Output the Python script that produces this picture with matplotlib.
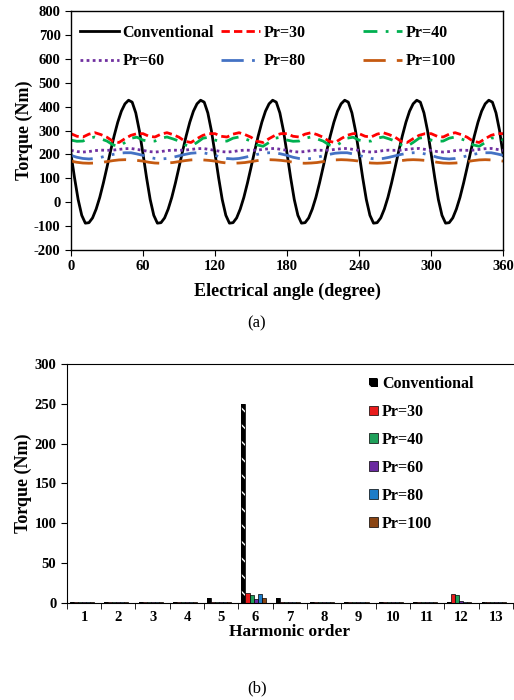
import matplotlib
matplotlib.use("Agg")
import matplotlib.pyplot as plt
import numpy as np

plt.rcParams['font.family'] = ['Liberation Serif', 'DejaVu Serif']
plt.rcParams['font.weight'] = 'bold'
plt.rcParams['hatch.linewidth'] = 1.0
plt.rcParams['axes.unicode_minus'] = False

# ---------------- (a) torque waveforms ----------------
angle_conv = list(range(0, 361, 3))
conv = [203, 102, 11, -55, -88, -86, -66, -29, 20, 80, 146, 214, 278, 335, 381, 412, 427, 419, 374, 299,
        203, 102, 11, -55, -88, -86, -66, -29, 20, 80, 146, 214, 278, 335, 381, 412, 427, 419, 374, 299,
        203, 102, 11, -55, -88, -86, -66, -29, 20, 80, 146, 214, 278, 335, 381, 412, 427, 419, 374, 299,
        203, 102, 11, -55, -88, -86, -66, -29, 20, 80, 146, 214, 278, 335, 381, 412, 427, 419, 374, 299,
        203, 102, 11, -55, -88, -86, -66, -29, 20, 80, 146, 214, 278, 335, 381, 412, 427, 419, 374, 299,
        203, 102, 11, -55, -88, -86, -66, -29, 20, 80, 146, 214, 278, 335, 381, 412, 427, 419, 374, 299,
        195]

angle_pr = list(range(0, 361, 5))
pr30 = [287, 276, 273, 285, 291, 283, 272, 255, 250, 266, 280, 287,
        287, 276, 273, 285, 291, 283, 272, 255, 250, 266, 280, 287,
        287, 276, 273, 285, 291, 283, 272, 255, 250, 266, 280, 287,
        287, 276, 273, 285, 291, 283, 272, 255, 250, 266, 280, 287,
        287, 276, 273, 285, 291, 283, 272, 255, 250, 266, 280, 287,
        287, 276, 273, 285, 291, 283, 272, 255, 250, 266, 280, 287,
        287]
pr40 = [260, 255, 256, 268, 273, 265, 256, 240, 234, 250, 268, 272,
        260, 255, 256, 268, 273, 265, 256, 240, 234, 250, 268, 272,
        260, 255, 256, 268, 273, 265, 256, 240, 234, 250, 268, 272,
        260, 255, 256, 268, 273, 265, 256, 240, 234, 250, 268, 272,
        260, 255, 256, 268, 273, 265, 256, 240, 234, 250, 268, 272,
        260, 255, 256, 268, 273, 265, 256, 240, 234, 250, 268, 272,
        260]
pr60 = [217, 212, 210, 212, 216, 218, 217, 218, 221, 224, 225, 221,
        217, 212, 210, 212, 216, 218, 217, 218, 221, 224, 225, 221,
        217, 212, 210, 212, 216, 218, 217, 218, 221, 224, 225, 221,
        217, 212, 210, 212, 216, 218, 217, 218, 221, 224, 225, 221,
        217, 212, 210, 212, 216, 218, 217, 218, 221, 224, 225, 221,
        217, 212, 210, 212, 216, 218, 217, 218, 221, 224, 225, 221,
        217]
pr80 = [196, 188, 183, 181, 183, 188, 194, 200, 205, 207, 207, 202,
        196, 188, 183, 181, 183, 188, 194, 200, 205, 207, 207, 202,
        196, 188, 183, 181, 183, 188, 194, 200, 205, 207, 207, 202,
        196, 188, 183, 181, 183, 188, 194, 200, 205, 207, 207, 202,
        196, 188, 183, 181, 183, 188, 194, 200, 205, 207, 207, 202,
        196, 188, 183, 181, 183, 188, 194, 200, 205, 207, 207, 202,
        196]
pr100 = [172, 167, 164, 163, 164, 166, 170, 174, 177, 178, 177, 175,
         172, 167, 164, 163, 164, 166, 170, 174, 177, 178, 177, 175,
         172, 167, 164, 163, 164, 166, 170, 174, 177, 178, 177, 175,
         172, 167, 164, 163, 164, 166, 170, 174, 177, 178, 177, 175,
         172, 167, 164, 163, 164, 166, 170, 174, 177, 178, 177, 175,
         172, 167, 164, 163, 164, 166, 170, 174, 177, 178, 177, 175,
         172]

# ---------------- (b) harmonic spectrum ----------------
harmonics = list(range(1, 14))
series_names = ['Conventional', 'Pr=30', 'Pr=40', 'Pr=60', 'Pr=80', 'Pr=100']
h_conv = [0.3, 0.5, 0.8, 1.5, 5.5, 250, 5.5, 0.3, 0.3, 0.3, 0.3, 0.3, 0.3]
h_pr30 = [0.3, 0.3, 0.3, 0.3, 0.3, 12.5, 0.3, 0.3, 0.3, 0.3, 0.3, 11, 0.3]
h_pr40 = [0.3, 0.3, 0.3, 0.3, 0.3, 10, 0.3, 0.3, 0.3, 0.3, 0.3, 10, 0.3]
h_pr60 = [0.3, 0.3, 0.3, 0.3, 0.3, 5, 0.3, 0.3, 0.3, 0.3, 0.3, 2.5, 0.3]
h_pr80 = [0.3, 0.3, 0.3, 0.3, 0.3, 11, 0.3, 0.3, 0.3, 0.3, 0.3, 0.6, 0.3]
h_pr100 = [0.3, 0.3, 0.3, 0.3, 0.3, 5.5, 0.3, 0.3, 0.3, 0.3, 0.3, 0.3, 0.3]

W, H = 514, 700
fig = plt.figure(figsize=(W / 100, H / 100), dpi=100)

# ---- top ----
ax1 = fig.add_axes([0.138, 0.643, 0.841, 0.341])
l0, = ax1.plot(angle_conv, conv, color='black', lw=2.0, label='Conventional')
l1, = ax1.plot(angle_pr, pr30, color='#ff0000', lw=2.0, dashes=(3, 1.5), label='Pr=30')
l2, = ax1.plot(angle_pr, pr40, color='#00b050', lw=2.0, dashes=(5, 3, 1, 3), label='Pr=40')
l3, = ax1.plot(angle_pr, pr60, color='#7030a0', lw=2.0, dashes=(1, 1.2), label='Pr=60')
l4, = ax1.plot(angle_pr, pr80, color='#4472c4', lw=2.0, dashes=(8, 3, 1, 3, 1, 3), label='Pr=80')
l5, = ax1.plot(angle_pr, pr100, color='#c55a11', lw=2.0, dashes=(8, 4), label='Pr=100')
ax1.set_xlim(0, 360)
ax1.set_ylim(-200, 800)
ax1.set_xticks(range(0, 361, 60))
ax1.set_yticks(range(-200, 801, 100))
ax1.tick_params(direction='out', length=4, labelsize=10.5)
for lab in ax1.get_xticklabels() + ax1.get_yticklabels():
    lab.set_fontweight('bold')
ax1.set_xlabel('Electrical angle (degree)', fontsize=13, fontweight='bold', labelpad=7)
ax1.set_ylabel('Torque (Nm)', fontsize=13, fontweight='bold', labelpad=1)
for sp in ax1.spines.values():
    sp.set_linewidth(1.0)

leg_kw = dict(loc='upper left', frameon=False, prop={'weight': 'bold', 'size': 11.5},
              handlelength=2.45, handletextpad=0.2, labelspacing=0.78,
              borderpad=0, borderaxespad=0)
col_x = [80 / W, 221 / W, 363 / W]
for cx, pair in zip(col_x, [(l0, l3), (l1, l4), (l2, l5)]):
    lg = fig.legend(handles=list(pair), bbox_to_anchor=(cx, 1 - 25 / H), **leg_kw)
fig.text(0.5, 1 - 323 / H, '(a)', ha='center', va='center', fontsize=12, fontweight='normal')

# ---- bottom ----
ax2 = fig.add_axes([0.130, 0.139, 0.868, 0.341])
colors = ['black', '#e81c1c', '#1fa05a', '#6a2aa0', '#1c7cc8', '#8b4513']
data = [h_conv, h_pr30, h_pr40, h_pr60, h_pr80, h_pr100]
x = np.array(harmonics, dtype=float)
w = 0.117
bar_handles = []
for i, (name, vals, c) in enumerate(zip(series_names, data, colors)):
    off = (i - 2.5) * w - 0.06
    if i == 0:
        b = ax2.bar(x + off, vals, width=w, facecolor='black', edgecolor='white', hatch='\\\\',
                    linewidth=0, label=name)
        ax2.bar(x + off, vals, width=w, fill=False, edgecolor='black', linewidth=0.6)
    else:
        b = ax2.bar(x + off, vals, width=w, facecolor=c, edgecolor='black', linewidth=0.5, label=name)
    bar_handles.append(b)
ax2.set_xlim(0.5, 13.5)
ax2.set_ylim(0, 300)
ax2.set_yticks(range(0, 301, 50))
ax2.set_xticks(harmonics)
ax2.set_xticks(np.arange(0.5, 13.6, 1.0), minor=True)
ax2.tick_params(axis='x', which='major', length=0, labelsize=10.5, pad=6)
ax2.tick_params(axis='x', which='minor', length=4, direction='out')
ax2.tick_params(axis='y', direction='out', length=4, labelsize=10.5)
for lab in ax2.get_xticklabels() + ax2.get_yticklabels():
    lab.set_fontweight('bold')
ax2.spines['right'].set_visible(False)
ax2.set_xlabel('Harmonic order', fontsize=12.5, fontweight='bold', labelpad=0)
ax2.set_ylabel('Torque (Nm)', fontsize=13, fontweight='bold', labelpad=2)
fig.legend(handles=bar_handles, labels=series_names, loc='upper left',
           bbox_to_anchor=(369 / W, 1 - 376 / H), frameon=False,
           prop={'weight': 'bold', 'size': 11.5}, handlelength=0.55, handleheight=0.55,
           handletextpad=0.25, labelspacing=0.75, borderpad=0, borderaxespad=0)
fig.text(0.5, 1 - 688 / H, '(b)', ha='center', va='center', fontsize=12, fontweight='normal')

fig.savefig('out.png', dpi=100)
